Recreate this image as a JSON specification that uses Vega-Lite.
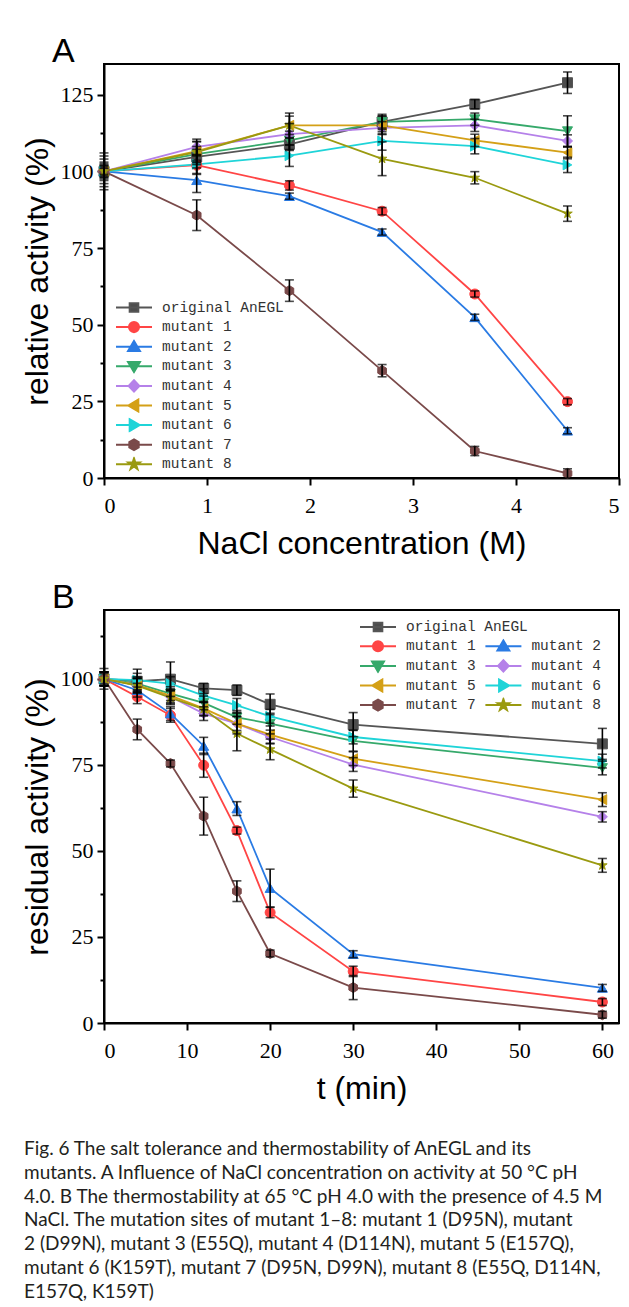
{
  "$schema": "https://vega.github.io/schema/vega-lite/v6.json",
  "background": "white",
  "padding": {"left": 20, "top": 34, "right": 0, "bottom": 0},
  "spacing": 20,
  "title": {
    "text": [
      "Fig. 6  The salt tolerance and thermostability of AnEGL and its",
      "mutants. A Influence of NaCl concentration on activity at 50 °C pH",
      "4.0. B The thermostability at 65 °C pH 4.0 with the presence of 4.5 M",
      "NaCl. The mutation sites of mutant 1–8: mutant 1 (D95N), mutant",
      "2 (D99N), mutant 3 (E55Q), mutant 4 (D114N), mutant 5 (E157Q),",
      "mutant 6 (K159T), mutant 7 (D95N, D99N), mutant 8 (E55Q, D114N,",
      "E157Q, K159T)"
    ],
    "orient": "bottom",
    "anchor": "start",
    "frame": "bounds",
    "dx": 4,
    "offset": 35,
    "font": "Lato",
    "fontSize": 19,
    "fontWeight": "normal",
    "lineHeight": 23.8,
    "color": "#231f20"
  },
  "datasets": {
    "A": [
      {"s": "original AnEGL", "x": 0, "y": 100, "e": 2},
      {"s": "original AnEGL", "x": 0.9, "y": 104.7, "e": 2.5},
      {"s": "original AnEGL", "x": 1.8, "y": 108.8, "e": 2},
      {"s": "original AnEGL", "x": 2.7, "y": 116.1, "e": 2.5},
      {"s": "original AnEGL", "x": 3.6, "y": 121.9, "e": 1.5},
      {"s": "original AnEGL", "x": 4.5, "y": 128.9, "e": 3.5},
      {"s": "mutant 1", "x": 0, "y": 100, "e": 1.5},
      {"s": "mutant 1", "x": 0.9, "y": 102, "e": 3},
      {"s": "mutant 1", "x": 1.8, "y": 95.4, "e": 1.5},
      {"s": "mutant 1", "x": 2.7, "y": 87, "e": 1.2},
      {"s": "mutant 1", "x": 3.6, "y": 60, "e": 1},
      {"s": "mutant 1", "x": 4.5, "y": 24.9, "e": 1},
      {"s": "mutant 2", "x": 0, "y": 100, "e": 2},
      {"s": "mutant 2", "x": 0.9, "y": 97.1, "e": 4},
      {"s": "mutant 2", "x": 1.8, "y": 91.9, "e": 1},
      {"s": "mutant 2", "x": 2.7, "y": 80.2, "e": 1},
      {"s": "mutant 2", "x": 3.6, "y": 52.4, "e": 1},
      {"s": "mutant 2", "x": 4.5, "y": 15.4, "e": 1},
      {"s": "mutant 3", "x": 0, "y": 100, "e": 3},
      {"s": "mutant 3", "x": 0.9, "y": 105.6, "e": 2.5},
      {"s": "mutant 3", "x": 1.8, "y": 110.1, "e": 3},
      {"s": "mutant 3", "x": 2.7, "y": 116.1, "e": 2},
      {"s": "mutant 3", "x": 3.6, "y": 117, "e": 2},
      {"s": "mutant 3", "x": 4.5, "y": 113.1, "e": 5},
      {"s": "mutant 4", "x": 0, "y": 100, "e": 2.5},
      {"s": "mutant 4", "x": 0.9, "y": 108, "e": 2.5},
      {"s": "mutant 4", "x": 1.8, "y": 112.1, "e": 3.5},
      {"s": "mutant 4", "x": 2.7, "y": 114.2, "e": 2},
      {"s": "mutant 4", "x": 3.6, "y": 115, "e": 2},
      {"s": "mutant 4", "x": 4.5, "y": 109.9, "e": 2},
      {"s": "mutant 5", "x": 0, "y": 100, "e": 4},
      {"s": "mutant 5", "x": 0.9, "y": 106.6, "e": 3},
      {"s": "mutant 5", "x": 1.8, "y": 115, "e": 3},
      {"s": "mutant 5", "x": 2.7, "y": 115, "e": 3},
      {"s": "mutant 5", "x": 3.6, "y": 110.1, "e": 2},
      {"s": "mutant 5", "x": 4.5, "y": 106.1, "e": 2},
      {"s": "mutant 6", "x": 0, "y": 100, "e": 5},
      {"s": "mutant 6", "x": 0.9, "y": 102.3, "e": 3},
      {"s": "mutant 6", "x": 1.8, "y": 105.1, "e": 3.5},
      {"s": "mutant 6", "x": 2.7, "y": 109.9, "e": 3},
      {"s": "mutant 6", "x": 3.6, "y": 108.2, "e": 2.5},
      {"s": "mutant 6", "x": 4.5, "y": 102.1, "e": 2.5},
      {"s": "mutant 7", "x": 0, "y": 100, "e": 1},
      {"s": "mutant 7", "x": 0.9, "y": 85.7, "e": 5},
      {"s": "mutant 7", "x": 1.8, "y": 61.1, "e": 3.5},
      {"s": "mutant 7", "x": 2.7, "y": 35, "e": 2},
      {"s": "mutant 7", "x": 3.6, "y": 8.8, "e": 1.5},
      {"s": "mutant 7", "x": 4.5, "y": 1.5, "e": 1.5},
      {"s": "mutant 8", "x": 0, "y": 100, "e": 6},
      {"s": "mutant 8", "x": 0.9, "y": 106.3, "e": 3.5},
      {"s": "mutant 8", "x": 1.8, "y": 115, "e": 4},
      {"s": "mutant 8", "x": 2.7, "y": 104.1, "e": 5.5},
      {"s": "mutant 8", "x": 3.6, "y": 97.9, "e": 2},
      {"s": "mutant 8", "x": 4.5, "y": 86.2, "e": 2.5}
    ],
    "B": [
      {"s": "original AnEGL", "x": 0, "y": 100, "e": 2},
      {"s": "original AnEGL", "x": 4, "y": 99.3, "e": 3.5},
      {"s": "original AnEGL", "x": 8, "y": 99.9, "e": 5},
      {"s": "original AnEGL", "x": 12, "y": 97.2, "e": 1.5},
      {"s": "original AnEGL", "x": 16, "y": 96.7, "e": 1.5},
      {"s": "original AnEGL", "x": 20, "y": 92.6, "e": 3},
      {"s": "original AnEGL", "x": 30, "y": 86.7, "e": 3.5},
      {"s": "original AnEGL", "x": 60, "y": 81.1, "e": 4.5},
      {"s": "mutant 1", "x": 0, "y": 100, "e": 3},
      {"s": "mutant 1", "x": 4, "y": 94.8, "e": 2},
      {"s": "mutant 1", "x": 8, "y": 89.4, "e": 2},
      {"s": "mutant 1", "x": 12, "y": 74.9, "e": 3.5},
      {"s": "mutant 1", "x": 16, "y": 55.9, "e": 1},
      {"s": "mutant 1", "x": 20, "y": 32.1, "e": 1.5},
      {"s": "mutant 1", "x": 30, "y": 15, "e": 1.5},
      {"s": "mutant 1", "x": 60, "y": 6.1, "e": 1},
      {"s": "mutant 2", "x": 0, "y": 100, "e": 2},
      {"s": "mutant 2", "x": 4, "y": 96.7, "e": 2},
      {"s": "mutant 2", "x": 8, "y": 89.9, "e": 2},
      {"s": "mutant 2", "x": 12, "y": 80.5, "e": 2.5},
      {"s": "mutant 2", "x": 16, "y": 62.3, "e": 2},
      {"s": "mutant 2", "x": 20, "y": 39.2, "e": 5.5},
      {"s": "mutant 2", "x": 30, "y": 20, "e": 1},
      {"s": "mutant 2", "x": 60, "y": 10.2, "e": 1},
      {"s": "mutant 3", "x": 0, "y": 100, "e": 2},
      {"s": "mutant 3", "x": 4, "y": 98.6, "e": 2},
      {"s": "mutant 3", "x": 8, "y": 95.7, "e": 2},
      {"s": "mutant 3", "x": 12, "y": 93, "e": 2},
      {"s": "mutant 3", "x": 16, "y": 88.8, "e": 2},
      {"s": "mutant 3", "x": 20, "y": 87, "e": 3},
      {"s": "mutant 3", "x": 30, "y": 82, "e": 3},
      {"s": "mutant 3", "x": 60, "y": 74.1, "e": 2},
      {"s": "mutant 4", "x": 0, "y": 100, "e": 1.5},
      {"s": "mutant 4", "x": 4, "y": 98.2, "e": 2},
      {"s": "mutant 4", "x": 8, "y": 94.8, "e": 2},
      {"s": "mutant 4", "x": 12, "y": 89.9, "e": 2},
      {"s": "mutant 4", "x": 16, "y": 87, "e": 2},
      {"s": "mutant 4", "x": 20, "y": 83.1, "e": 2},
      {"s": "mutant 4", "x": 30, "y": 75.1, "e": 2},
      {"s": "mutant 4", "x": 60, "y": 59.9, "e": 1.5},
      {"s": "mutant 5", "x": 0, "y": 100, "e": 2},
      {"s": "mutant 5", "x": 4, "y": 98.2, "e": 2},
      {"s": "mutant 5", "x": 8, "y": 95.1, "e": 2},
      {"s": "mutant 5", "x": 12, "y": 91.4, "e": 2},
      {"s": "mutant 5", "x": 16, "y": 87, "e": 3},
      {"s": "mutant 5", "x": 20, "y": 83.8, "e": 2.5},
      {"s": "mutant 5", "x": 30, "y": 76.8, "e": 2},
      {"s": "mutant 5", "x": 60, "y": 64.9, "e": 2},
      {"s": "mutant 6", "x": 0, "y": 100, "e": 2},
      {"s": "mutant 6", "x": 4, "y": 99.6, "e": 2},
      {"s": "mutant 6", "x": 8, "y": 98.6, "e": 2},
      {"s": "mutant 6", "x": 12, "y": 95.1, "e": 2},
      {"s": "mutant 6", "x": 16, "y": 92.3, "e": 2},
      {"s": "mutant 6", "x": 20, "y": 89.1, "e": 2},
      {"s": "mutant 6", "x": 30, "y": 83.1, "e": 2},
      {"s": "mutant 6", "x": 60, "y": 76.1, "e": 2},
      {"s": "mutant 7", "x": 0, "y": 100, "e": 2},
      {"s": "mutant 7", "x": 4, "y": 85.3, "e": 3},
      {"s": "mutant 7", "x": 8, "y": 75.4, "e": 1},
      {"s": "mutant 7", "x": 12, "y": 60.1, "e": 5.5},
      {"s": "mutant 7", "x": 16, "y": 38.3, "e": 3},
      {"s": "mutant 7", "x": 20, "y": 20.2, "e": 1},
      {"s": "mutant 7", "x": 30, "y": 10.3, "e": 3.5},
      {"s": "mutant 7", "x": 60, "y": 2.4, "e": 1},
      {"s": "mutant 8", "x": 0, "y": 100, "e": 2},
      {"s": "mutant 8", "x": 4, "y": 98, "e": 2},
      {"s": "mutant 8", "x": 8, "y": 94.5, "e": 2},
      {"s": "mutant 8", "x": 12, "y": 91.2, "e": 2},
      {"s": "mutant 8", "x": 16, "y": 84.1, "e": 5},
      {"s": "mutant 8", "x": 20, "y": 79.5, "e": 3},
      {"s": "mutant 8", "x": 30, "y": 68.1, "e": 2.5},
      {"s": "mutant 8", "x": 60, "y": 45.8, "e": 2}
    ]
  },
  "vconcat": [
    {
      "width": 515,
      "height": 414,
      "title": {"text": "A", "anchor": "start", "frame": "group", "dx": -52, "offset": -5, "font": "Liberation Sans", "fontSize": 34, "fontWeight": "normal", "color": "black"},
      "data": {"name": "A"},
      "encoding": {
        "x": {"field": "x", "type": "quantitative", "scale": {"domain": [0, 5], "nice": false, "zero": false}, "axis": {"values": [0, 1, 2, 3, 4, 5], "title": "NaCl concentration (M)"}},
        "y": {"field": "y", "type": "quantitative", "scale": {"domain": [0, 135], "nice": false}, "axis": {"values": [0, 12.5, 25, 37.5, 50, 62.5, 75, 87.5, 100, 112.5, 125], "labelExpr": "datum.value % 25 === 0 ? datum.label : ''", "tickSize": {"condition": {"test": "datum.value % 25 !== 0", "value": 4}, "value": 7}, "title": "relative activity (%)"}}
      },
      "layer": [
        {
          "layer": [
            {
              "mark": {"type": "line", "strokeWidth": 1.8},
              "encoding": {
                "stroke": {"field": "s", "type": "nominal", "sort": null, "scale": {"domain": ["original AnEGL", "mutant 1", "mutant 2", "mutant 3", "mutant 4", "mutant 5", "mutant 6", "mutant 7", "mutant 8"], "range": ["#555555", "#ff4545", "#2a7be4", "#36a96b", "#b581e9", "#d4a017", "#1fd4d8", "#7a4a4a", "#9a9a10"]}, "legend": null}
              }
            },
            {
              "mark": {"type": "point", "filled": true, "size": 100, "opacity": 1, "strokeWidth": 1},
              "encoding": {
                "fill": {"field": "s", "type": "nominal", "sort": null, "scale": {"domain": ["original AnEGL", "mutant 1", "mutant 2", "mutant 3", "mutant 4", "mutant 5", "mutant 6", "mutant 7", "mutant 8"], "range": ["#4d4d4d", "#ff4545", "#2a7be4", "#36a96b", "#b581e9", "#d4a017", "#1fd4d8", "#7a4a4a", "#9a9a10"]}, "legend": null},
                "stroke": {"field": "s", "type": "nominal", "sort": null, "legend": null},
                "shape": {"field": "s", "type": "nominal", "sort": null, "scale": {"domain": ["original AnEGL", "mutant 1", "mutant 2", "mutant 3", "mutant 4", "mutant 5", "mutant 6", "mutant 7", "mutant 8"], "range": ["square", "circle", "triangle-up", "triangle-down", "diamond", "triangle-left", "triangle-right", "M0,-1L0.866,-0.5L0.866,0.5L0,1L-0.866,0.5L-0.866,-0.5Z", "M0,-1L0.224,-0.307L0.951,-0.309L0.363,0.118L0.588,0.809L0,0.38L-0.588,0.809L-0.363,0.118L-0.951,-0.309L-0.224,-0.307Z"]}, "legend": null}
              }
            }
          ]
        },
        {
          "transform": [{"filter": "false"}],
          "mark": {"type": "point", "filled": true, "size": 1296, "opacity": 1, "strokeWidth": 2},
          "encoding": {
            "fill": {"field": "s", "type": "nominal", "sort": null, "scale": {"domain": ["original AnEGL", "mutant 1", "mutant 2", "mutant 3", "mutant 4", "mutant 5", "mutant 6", "mutant 7", "mutant 8"], "range": ["#4d4d4d", "#ff4545", "#2a7be4", "#36a96b", "#b581e9", "#d4a017", "#1fd4d8", "#7a4a4a", "#9a9a10"]},
              "legend": {"title": null, "orient": "none", "legendX": 11, "legendY": 236, "padding": 0, "labelFont": "Liberation Mono", "labelFontSize": 14.5, "labelColor": "#333333", "symbolSize": 1296, "symbolStrokeWidth": 2, "clipHeight": 15, "rowPadding": 3.6, "labelOffset": 9}},
            "stroke": {"field": "s", "type": "nominal", "sort": null, "scale": {"domain": ["original AnEGL", "mutant 1", "mutant 2", "mutant 3", "mutant 4", "mutant 5", "mutant 6", "mutant 7", "mutant 8"], "range": ["#555555", "#ff4545", "#2a7be4", "#36a96b", "#b581e9", "#d4a017", "#1fd4d8", "#7a4a4a", "#9a9a10"]},
              "legend": {"title": null, "orient": "none", "legendX": 11, "legendY": 236, "padding": 0, "labelFont": "Liberation Mono", "labelFontSize": 14.5, "labelColor": "#333333", "symbolSize": 1296, "symbolStrokeWidth": 2, "clipHeight": 15, "rowPadding": 3.6, "labelOffset": 9}},
            "shape": {"field": "s", "type": "nominal", "sort": null, "scale": {"domain": ["original AnEGL", "mutant 1", "mutant 2", "mutant 3", "mutant 4", "mutant 5", "mutant 6", "mutant 7", "mutant 8"], "range": ["M-1,0L1,0M-0.24,-0.24L0.24,-0.24L0.24,0.24L-0.24,0.24Z", "M-1,0L1,0M-0.28,0A0.28,0.28,0,1,1,0.28,0A0.28,0.28,0,1,1,-0.28,0Z", "M-1,0L1,0M0,-0.32L0.33,0.24L-0.33,0.24Z", "M-1,0L1,0M0,0.32L0.33,-0.24L-0.33,-0.24Z", "M-1,0L1,0M0,-0.32L0.3,0L0,0.32L-0.3,0Z", "M-1,0L1,0M-0.32,0L0.24,-0.33L0.24,0.33Z", "M-1,0L1,0M0.32,0L-0.24,-0.33L-0.24,0.33Z", "M-1,0L1,0M0,-0.3L0.26,-0.15L0.26,0.15L0,0.3L-0.26,0.15L-0.26,-0.15Z", "M-1,0L1,0M0,-0.33L0.074,-0.101L0.314,-0.102L0.12,0.039L0.194,0.267L0,0.125L-0.194,0.267L-0.12,0.039L-0.314,-0.102L-0.074,-0.101Z"]},
              "legend": {"title": null, "orient": "none", "legendX": 11, "legendY": 236, "padding": 0, "labelFont": "Liberation Mono", "labelFontSize": 14.5, "labelColor": "#333333", "symbolSize": 1296, "symbolStrokeWidth": 2, "clipHeight": 15, "rowPadding": 3.6, "labelOffset": 9}}
          }
        },
        {
          "mark": {"type": "errorbar", "color": "black", "ticks": true, "size": 9, "thickness": 1.6},
          "encoding": {"yError": {"field": "e"}}
        }
      ],
      "resolve": {"scale": {"stroke": "independent", "fill": "independent", "shape": "independent"}}
    },
    {
      "width": 515,
      "height": 413,
      "title": {"text": "B", "anchor": "start", "frame": "group", "dx": -52, "offset": -5, "font": "Liberation Sans", "fontSize": 34, "fontWeight": "normal", "color": "black"},
      "data": {"name": "B"},
      "encoding": {
        "x": {"field": "x", "type": "quantitative", "scale": {"domain": [0, 62], "nice": false, "zero": false}, "axis": {"values": [0, 10, 20, 30, 40, 50, 60], "title": "t (min)"}},
        "y": {"field": "y", "type": "quantitative", "scale": {"domain": [0, 120], "nice": false}, "axis": {"values": [0, 12.5, 25, 37.5, 50, 62.5, 75, 87.5, 100, 112.5], "labelExpr": "datum.value % 25 === 0 ? datum.label : ''", "tickSize": {"condition": {"test": "datum.value % 25 !== 0", "value": 4}, "value": 7}, "title": "residual activity (%)"}}
      },
      "layer": [
        {
          "layer": [
            {
              "mark": {"type": "line", "strokeWidth": 1.8},
              "encoding": {
                "stroke": {"field": "s", "type": "nominal", "sort": null, "scale": {"domain": ["original AnEGL", "mutant 1", "mutant 2", "mutant 3", "mutant 4", "mutant 5", "mutant 6", "mutant 7", "mutant 8"], "range": ["#555555", "#ff4545", "#2a7be4", "#36a96b", "#b581e9", "#d4a017", "#1fd4d8", "#7a4a4a", "#9a9a10"]}, "legend": null}
              }
            },
            {
              "mark": {"type": "point", "filled": true, "size": 100, "opacity": 1, "strokeWidth": 1},
              "encoding": {
                "fill": {"field": "s", "type": "nominal", "sort": null, "scale": {"domain": ["original AnEGL", "mutant 1", "mutant 2", "mutant 3", "mutant 4", "mutant 5", "mutant 6", "mutant 7", "mutant 8"], "range": ["#4d4d4d", "#ff4545", "#2a7be4", "#36a96b", "#b581e9", "#d4a017", "#1fd4d8", "#7a4a4a", "#9a9a10"]}, "legend": null},
                "stroke": {"field": "s", "type": "nominal", "sort": null, "legend": null},
                "shape": {"field": "s", "type": "nominal", "sort": null, "scale": {"domain": ["original AnEGL", "mutant 1", "mutant 2", "mutant 3", "mutant 4", "mutant 5", "mutant 6", "mutant 7", "mutant 8"], "range": ["square", "circle", "triangle-up", "triangle-down", "diamond", "triangle-left", "triangle-right", "M0,-1L0.866,-0.5L0.866,0.5L0,1L-0.866,0.5L-0.866,-0.5Z", "M0,-1L0.224,-0.307L0.951,-0.309L0.363,0.118L0.588,0.809L0,0.38L-0.588,0.809L-0.363,0.118L-0.951,-0.309L-0.224,-0.307Z"]}, "legend": null}
              }
            }
          ]
        },
        {
          "transform": [{"filter": "false"}],
          "mark": {"type": "point", "filled": true, "size": 1296, "opacity": 1, "strokeWidth": 2},
          "encoding": {
            "fill": {"field": "s", "type": "nominal", "scale": {"domain": ["original AnEGL"], "range": ["#4d4d4d"]},
              "legend": {"title": null, "orient": "none", "legendX": 255, "legendY": 9.5, "padding": 0, "labelFont": "Liberation Mono", "labelFontSize": 14.5, "labelColor": "#333333", "symbolSize": 1296, "symbolStrokeWidth": 2, "clipHeight": 15, "rowPadding": 3.6, "labelOffset": 9}},
            "stroke": {"field": "s", "type": "nominal", "scale": {"domain": ["original AnEGL"], "range": ["#555555"]},
              "legend": {"title": null, "orient": "none", "legendX": 255, "legendY": 9.5, "padding": 0, "labelFont": "Liberation Mono", "labelFontSize": 14.5, "labelColor": "#333333", "symbolSize": 1296, "symbolStrokeWidth": 2, "clipHeight": 15, "rowPadding": 3.6, "labelOffset": 9}},
            "shape": {"field": "s", "type": "nominal", "scale": {"domain": ["original AnEGL"], "range": ["M-1,0L1,0M-0.24,-0.24L0.24,-0.24L0.24,0.24L-0.24,0.24Z"]},
              "legend": {"title": null, "orient": "none", "legendX": 255, "legendY": 9.5, "padding": 0, "labelFont": "Liberation Mono", "labelFontSize": 14.5, "labelColor": "#333333", "symbolSize": 1296, "symbolStrokeWidth": 2, "clipHeight": 15, "rowPadding": 3.6, "labelOffset": 9}}
          }
        },
        {
          "transform": [{"filter": "false"}],
          "mark": {"type": "point", "filled": true, "size": 1296, "opacity": 1, "strokeWidth": 2},
          "encoding": {
            "fill": {"field": "s", "type": "nominal", "sort": null, "scale": {"domain": ["mutant 1", "mutant 2", "mutant 3", "mutant 4", "mutant 5", "mutant 6", "mutant 7", "mutant 8"], "range": ["#ff4545", "#2a7be4", "#36a96b", "#b581e9", "#d4a017", "#1fd4d8", "#7a4a4a", "#9a9a10"]},
              "legend": {"title": null, "orient": "none", "legendX": 255, "legendY": 28.8, "columns": 2, "direction": "horizontal", "columnPadding": 8.4, "padding": 0, "labelFont": "Liberation Mono", "labelFontSize": 14.5, "labelColor": "#333333", "symbolSize": 1296, "symbolStrokeWidth": 2, "clipHeight": 15, "rowPadding": 3.6, "labelOffset": 9}},
            "stroke": {"field": "s", "type": "nominal", "sort": null, "scale": {"domain": ["mutant 1", "mutant 2", "mutant 3", "mutant 4", "mutant 5", "mutant 6", "mutant 7", "mutant 8"], "range": ["#ff4545", "#2a7be4", "#36a96b", "#b581e9", "#d4a017", "#1fd4d8", "#7a4a4a", "#9a9a10"]},
              "legend": {"title": null, "orient": "none", "legendX": 255, "legendY": 28.8, "columns": 2, "direction": "horizontal", "columnPadding": 8.4, "padding": 0, "labelFont": "Liberation Mono", "labelFontSize": 14.5, "labelColor": "#333333", "symbolSize": 1296, "symbolStrokeWidth": 2, "clipHeight": 15, "rowPadding": 3.6, "labelOffset": 9}},
            "shape": {"field": "s", "type": "nominal", "sort": null, "scale": {"domain": ["mutant 1", "mutant 2", "mutant 3", "mutant 4", "mutant 5", "mutant 6", "mutant 7", "mutant 8"], "range": ["M-1,0L1,0M-0.28,0A0.28,0.28,0,1,1,0.28,0A0.28,0.28,0,1,1,-0.28,0Z", "M-1,0L1,0M0,-0.32L0.33,0.24L-0.33,0.24Z", "M-1,0L1,0M0,0.32L0.33,-0.24L-0.33,-0.24Z", "M-1,0L1,0M0,-0.32L0.3,0L0,0.32L-0.3,0Z", "M-1,0L1,0M-0.32,0L0.24,-0.33L0.24,0.33Z", "M-1,0L1,0M0.32,0L-0.24,-0.33L-0.24,0.33Z", "M-1,0L1,0M0,-0.3L0.26,-0.15L0.26,0.15L0,0.3L-0.26,0.15L-0.26,-0.15Z", "M-1,0L1,0M0,-0.33L0.074,-0.101L0.314,-0.102L0.12,0.039L0.194,0.267L0,0.125L-0.194,0.267L-0.12,0.039L-0.314,-0.102L-0.074,-0.101Z"]},
              "legend": {"title": null, "orient": "none", "legendX": 255, "legendY": 28.8, "columns": 2, "direction": "horizontal", "columnPadding": 8.4, "padding": 0, "labelFont": "Liberation Mono", "labelFontSize": 14.5, "labelColor": "#333333", "symbolSize": 1296, "symbolStrokeWidth": 2, "clipHeight": 15, "rowPadding": 3.6, "labelOffset": 9}}
          }
        },
        {
          "mark": {"type": "errorbar", "color": "black", "ticks": true, "size": 9, "thickness": 1.6},
          "encoding": {"yError": {"field": "e"}}
        }
      ],
      "resolve": {"scale": {"stroke": "independent", "fill": "independent", "shape": "independent"}}
    }
  ],
  "config": {
    "view": {"stroke": "black", "strokeWidth": 2},
    "axis": {"grid": false, "domainColor": "black", "domainWidth": 2, "tickColor": "black", "tickWidth": 2, "tickSize": 7, "labelFont": "Liberation Serif, serif", "labelFontSize": 22, "labelColor": "black", "labelPadding": 4, "titleFont": "Liberation Sans", "titleFontSize": 32, "titleFontWeight": "normal", "titleColor": "black"},
    "axisX": {"titlePadding": 12, "labelPadding": 10},
    "axisY": {"titlePadding": 6}
  }
}
